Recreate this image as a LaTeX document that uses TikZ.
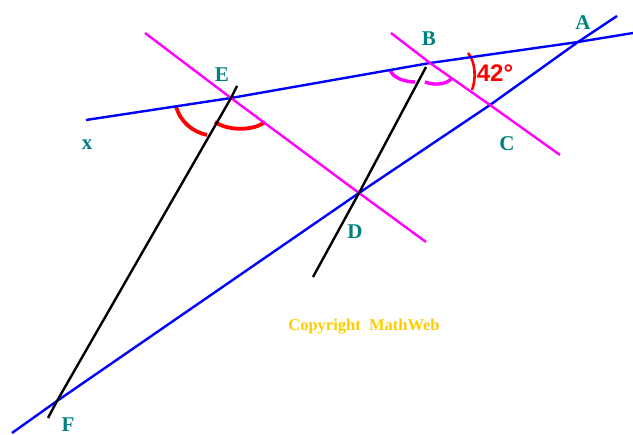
\documentclass[tikz,border=0pt]{standalone}
\usepackage{fontspec}
\setmainfont{Liberation Serif}
\setsansfont{Liberation Sans}
\setmonofont{Liberation Mono}

\begin{document}
\begin{tikzpicture}[x=1pt,y=-1pt]
  \definecolor{linblue}{RGB}{0,0,255}
  \definecolor{linmag}{RGB}{255,0,255}
  \definecolor{angred}{RGB}{255,0,0}
  \definecolor{ptteal}{RGB}{0,128,128}
  \definecolor{copygold}{RGB}{255,204,0}

  \tikzset{
    blueline/.style={draw=linblue,line width=2.4pt},
    magline/.style={draw=linmag,line width=2.4pt},
    blackline/.style={draw=black,line width=2.4pt},
    redarc/.style={draw=angred,line width=3.8pt},
    magarc/.style={draw=linmag,line width=3.4pt},
    ptlabel/.style={font=\rmfamily\bfseries\fontsize{21}{21}\selectfont,text=ptteal,inner sep=0pt}
  }

  \useasboundingbox (0,0) rectangle (633,435);

  % ---------------- Points ----------------
  \coordinate (A) at (578,42);
  \coordinate (B) at (430,63);
  \coordinate (C) at (490,105);
  \coordinate (D) at (359,193);
  \coordinate (E) at (231,98);
  \coordinate (F) at (57,401);

  % Line ends
  \coordinate (xend) at (86,120);
  \coordinate (topR) at (633,33);
  \coordinate (longL) at (12,433);
  \coordinate (longR) at (617,16);
  \coordinate (magoneT) at (145,33);
  \coordinate (magoneB) at (426,242);
  \coordinate (magtwoT) at (391,33);
  \coordinate (magtwoB) at (560,155);
  \coordinate (blkoneT) at (237,86);
  \coordinate (blkoneB) at (48,418);
  \coordinate (blktwoT) at (426,67);
  \coordinate (blktwoB) at (313,277);

  % ---------------- Angle marks ----------------
  \draw[redarc] (176,106) .. controls (180,122) and (193,132) .. (207,135);
  \draw[redarc] (215,122) .. controls (230,132) and (255,130) .. (265,122);
  \draw[magarc] (390,70) .. controls (393,78) and (405,82) .. (415,82);
  \draw[magarc] (425,82) .. controls (435,86) and (448,84) .. (452,78);
  \draw[draw=angred,line width=2.6pt] (468,53) .. controls (476,62) and (476,80) .. (472,90);

  % ---------------- Lines ----------------
  \draw[blueline] (xend) -- (E) -- (B) -- (A) -- (topR);
  \draw[blueline] (longL) -- (F) -- (D) -- (C) -- (A) -- (longR);
  \draw[magline] (magoneT) -- (E) -- (D) -- (magoneB);
  \draw[magline] (magtwoT) -- (B) -- (C) -- (magtwoB);
  \draw[blackline] (blkoneT) -- (E) -- (F) -- (blkoneB);
  \draw[blackline] (blktwoT) -- (D) -- (blktwoB);

  % ---------------- Labels ----------------
  \node[ptlabel] (labA) at (583,23) {A};
  \node[ptlabel] (labB) at (429,39) {B};
  \node[ptlabel] (labC) at (507,144) {C};
  \node[ptlabel] (labD) at (355,232) {D};
  \node[ptlabel] (labE) at (222,75) {E};
  \node[ptlabel] (labF) at (68,425) {F};
  \node[ptlabel] (labx) at (87,145) {x};

  \node[font=\sffamily\bfseries\fontsize{24}{24}\selectfont,text=angred,inner sep=0pt] (angtxt) at (495,73) {42°};
  \node[font=\rmfamily\bfseries\fontsize{16.5}{16.5}\selectfont,text=copygold,inner sep=0pt] (copytxt) at (364,327) {Copyright\ \ MathWeb};
\end{tikzpicture}
\end{document}
